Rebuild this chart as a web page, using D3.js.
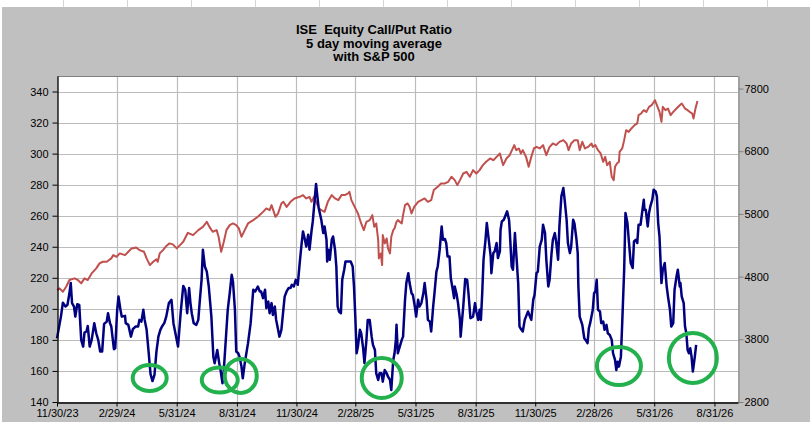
<!DOCTYPE html>
<html><head><meta charset="utf-8">
<script src="https://cdn.jsdelivr.net/npm/d3@7"></script>
<style>
html,body{margin:0;padding:0;background:#c0c0c0;}
svg{display:block;}
</style></head><body>
<svg id="c" width="810" height="422"></svg>
<script>
// ---------------- DATA ----------------
const titleLines = ["ISE  Equity Call/Put Ratio", "5 day moving average", "with S&P 500"];
const startDate = "2023-11-30";   // day 0 of the series
const endAxisDate = "2026-10-06";
// ISE equity call/put ratio (5-day MA) : days after start, value
const cpDays = [0,6,9,13,16,19,21,23,26,28,31,34,37,40,42,45,47,50,53,57,60,63,66,69,72,76,78,81,83,87,89,92,94,97,99,104,105,109,113,116,120,124,126,129,132,134,137,140,143,146,149,152,155,158,161,164,167,171,175,178,181,185,189,193,196,199,202,204,206,209,213,216,218,221,223,226,229,232,236,239,241,245,248,250,253,255,258,261,264,267,269,272,274,277,279,282,284,287,292,296,300,303,307,310,312,315,318,320,323,325,328,330,333,335,338,340,343,346,348,351,354,357,359,362,365,368,371,374,376,379,381,384,386,389,391,393,396,398,400,404,407,409,412,413,415,417,420,422,425,427,429,431,434,436,439,441,445,449,452,454,456,458,460,463,465,468,470,473,475,478,481,483,486,488,491,493,496,498,501,504,506,509,511,514,516,518,519,521,524,527,529,532,534,537,539,542,544,547,549,552,554,557,560,562,565,567,570,572,575,577,580,582,585,588,590,593,595,597,600,602,605,607,608,611,613,616,617,621,624,627,629,632,636,639,641,644,646,648,650,652,655,657,660,663,664,667,669,672,674,677,678,680,683,686,688,691,692,695,697,700,702,705,707,710,712,715,718,720,723,725,728,730,733,735,738,741,743,746,748,751,753,756,758,761,763,766,768,771,774,776,779,781,784,786,789,791,794,796,797,799,803,806,808,811,813,815,819,821,823,825,827,830,832,835,837,840,842,845,848,850,853,855,857,859,862,864,867,869,872,874,877,880,882,885,887,889,892,894,897,898,900,903,905,907,910,912,915,917,919,921,924,926,929,932,934,937,939,942,944,947,949,952,953,955,958,960,962,964,966,968,970,972,975,977];
const cpValues = [181,195,204,201.5,202.6,210,216.6,203.7,201.5,195,203,202.6,180,175.7,184.7,185.4,189,175.7,180,190.8,184.3,180,172.5,172.5,190.3,191.8,197.2,190.8,188.6,174,174.6,199.4,207.9,199.4,195,195.5,190.8,189.7,182.1,186.9,188.6,188.6,192.9,191.8,199.4,192.9,186.5,172.5,158,153.5,157.4,172.5,182.1,186.5,189,190.8,195,203.7,205.8,190.8,184.3,175.7,197.2,214.8,212.3,197.2,213.4,203.7,197.2,190.8,189.7,192.9,203.7,218.7,238.1,227.3,224,214.4,195,169.2,165,173.5,165,160.6,152.1,160.6,180,199.4,210,221.9,217.6,199.4,172.5,171.4,169.2,162.8,155.3,165,177.9,190.8,212.3,211.2,214.4,211.2,211.2,206.9,212.3,200.5,204.7,197.2,203.7,196.1,201.5,192.9,186.5,182.1,186.5,199.4,207.9,211.2,213.4,213.4,215.5,214.4,218.7,215.5,229.5,242.4,249.9,244.5,240.2,247.7,238.1,249.9,256.3,266,280.5,272.5,265,257.4,248.8,253.1,244.5,230.5,238.1,231.6,244.5,246.6,238.1,227.3,201.5,198.3,197.2,218.7,225.2,230.5,230.5,230.5,227.3,214.4,195,171.4,175.7,186.5,184.3,174.6,165,180,192.9,192.9,182.1,176.8,173.5,158.5,154.2,158.5,158.5,153.1,160.6,158.5,156.3,154.2,147.7,167.1,171.4,180,189.7,171.4,175.7,180,182.1,205.8,216.6,223,216.6,210,209,201.5,195,205.8,201.5,203.7,210,216.6,205.8,192.9,191.8,185.4,201.5,210,224,227.3,238.1,253.1,244.5,245,242.4,233.7,233.7,219.8,212.3,206.9,214.4,209,203.7,192.9,182.1,201.5,219.2,218.7,210,194,195,203.7,198.3,192.9,199.4,192.9,210,231.6,244.5,255.3,244.5,233.7,223,235.9,237,242.4,232.7,237,251,256.3,257.4,260.6,262.8,257.4,251,227.3,225.2,248.8,235.9,216.6,188.6,186.5,185.4,192.9,196.1,198.3,195,192.9,205.8,209,223,224,240.2,244.5,254.2,248.8,231.6,214.4,218.7,235.9,244.5,248.8,243.4,231.6,253.1,272.5,277.9,270.3,257.4,242.4,235.9,240.2,257.4,255,245,235.9,214.4,195,189.7,181.1,180,177.9,187.5,190.8,199.4,210,211.2,218.7,199.4,198.3,190.8,191.8,186.5,189.7,184.3,183.2,180,171.4,167.1,160.6,166,162.8,169.2,190.8,225.2,261.7,255.3,244.5,229.5,226.3,243.4,244.5,242.4,254.2,254.2,260.6,270.3,263.9,263.9,253.1,261.7,266,270.3,276.8,275.7,272.5,255.3,246.6,216.6,225.2,229.5,214.4,207.9,199.4,188.6,190.8,212.3,220.8,225.2,214.4,216.6,207.9,203.7,188.6,184.3,173.5,171.4,174.6,169.2,159.6,169.2,176.8];
// S&P 500 : days after start, index level
const spxDays = [0,4,9,14,19,27,32,37,42,47,53,60,65,70,76,83,86,91,96,104,109,114,121,126,133,137,142,147,152,154,157,162,167,172,177,183,188,193,200,208,216,223,229,233,238,244,247,251,255,259,264,269,274,278,282,287,292,300,307,315,320,325,328,334,338,343,346,351,357,363,371,376,381,386,389,393,397,401,404,409,414,420,425,430,435,440,445,447,450,455,460,465,469,473,478,482,485,488,491,492,495,497,498,501,504,506,509,511,514,516,519,521,527,529,532,536,539,542,546,552,557,562,567,572,576,582,587,593,598,603,608,612,616,621,626,631,636,641,646,651,656,662,667,672,677,682,687,692,699,702,706,709,712,717,721,725,729,733,738,743,748,753,758,763,768,774,779,782,786,791,796,799,803,807,812,817,819,823,827,831,835,838,841,845,848,851,853,856,859,860,864,867,870,874,878,883,887,889,893,897,901,905,909,914,917,921,924,926,930,934,938,942,947,952,955,960,964,967,971,973,976,979];
const spxValues = [4585,4612,4558,4638,4745,4772,4745,4692,4772,4745,4851,4931,5011,5037,5037,5091,5143,5116,5170,5143,5196,5250,5266,5223,5196,5091,4984,5037,5075,5037,5170,5223,5287,5330,5314,5250,5303,5355,5499,5462,5542,5594,5674,5594,5515,5542,5435,5196,5355,5542,5621,5648,5621,5569,5435,5542,5648,5701,5754,5833,5888,5860,5940,5754,5808,5967,5993,5913,5993,6047,6073,6100,6047,6073,5993,6073,5967,5888,5860,5833,5993,6100,6047,6020,6100,6100,6127,6153,6020,5913,5808,5648,5542,5674,5701,5781,5594,5648,5382,5091,5170,4984,5462,5330,5409,5250,5170,5435,5542,5569,5674,5701,5648,5781,5940,5967,5913,5808,5913,5993,6020,6047,5993,6020,6180,6232,6286,6286,6312,6392,6339,6259,6339,6445,6471,6392,6498,6445,6498,6578,6631,6684,6657,6710,6764,6578,6684,6737,6897,6817,6844,6764,6817,6710,6551,6710,6844,6870,6844,6897,6737,6870,6924,6897,6950,6977,6924,6817,6924,6977,6977,6817,6950,6844,6870,6924,6870,6897,6817,6764,6631,6710,6578,6631,6392,6339,6551,6604,6631,6790,6844,6977,7136,7109,7163,7216,7243,7375,7402,7455,7428,7508,7534,7614,7534,7428,7268,7508,7455,7481,7375,7428,7481,7534,7561,7481,7455,7428,7402,7322,7481,7602];
const leftTicks = [140,160,180,200,220,240,260,280,300,320,340];
const rightTicks = [2800,3800,4800,5800,6800,7800];
const xTickDates = ["2023-11-30","2024-02-29","2024-05-31","2024-08-31","2024-11-30","2025-02-28","2025-05-31","2025-08-31","2025-11-30","2026-02-28","2026-05-31","2026-08-31"];
const xTickLabels = ["11/30/23","2/29/24","5/31/24","8/31/24","11/30/24","2/28/25","5/31/25","8/31/25","11/30/25","2/28/26","5/31/26","8/31/26"];
// highlighted lows (green rings): day offset, ratio value
const ringDays = [141.7, 248.8, 280.9, 496.4, 859, 972];
const ringValues = [155.5, 154.2, 156.8, 155.5, 163.2, 168.4];

// ---------------- DRAW ----------------
const W = 810, H = 422;
const M = {left: 57, right: 738, top: 76, bottom: 402};
const ringSize = [[17,13],[18,12.5],[16,17],[20,20],[22,19],[24,25]];

const svg = d3.select("#c");
const parse = d3.utcParse("%Y-%m-%d");
const t0 = parse(startDate);
const dayToDate = d => new Date(+t0 + d * 864e5);

const x = d3.scaleUtc().domain([t0, parse(endAxisDate)]).range([M.left, M.right]);
const yL = d3.scaleLinear().domain([140, 350]).range([M.bottom, M.top]);
const yR = d3.scaleLinear().domain([2800, 8000]).range([M.bottom, M.top]);

// background (chart area + spreadsheet edge)
svg.append("rect").attr("width", W).attr("height", H).attr("fill", "#c0c0c0");
svg.append("rect").attr("width", W).attr("height", 7).attr("fill", "#ffffff");
svg.append("rect").attr("width", 2).attr("height", H).attr("fill", "#ffffff");
const sheet = svg.append("g").attr("stroke", "#d4d4d4").attr("stroke-width", 1);
d3.range(63.5, W, 64).forEach(v => sheet.append("line").attr("x1", v).attr("x2", v).attr("y1", 0).attr("y2", 7));

// plot area
svg.append("rect").attr("x", M.left).attr("y", M.top)
  .attr("width", M.right - M.left).attr("height", M.bottom - M.top).attr("fill", "#ffffff");

// gridlines
const grid = svg.append("g").attr("stroke", "#bcbcbc").attr("stroke-width", 1.2);
leftTicks.forEach(v => {
  const yy = Math.round(yL(v)) + 0.5;
  grid.append("line").attr("x1", M.left).attr("x2", M.right).attr("y1", yy).attr("y2", yy);
});
xTickDates.forEach(s => {
  const xx = Math.round(x(parse(s))) + 0.5;
  grid.append("line").attr("x1", xx).attr("x2", xx).attr("y1", M.top).attr("y2", M.bottom);
});

// top border
svg.append("line").attr("x1", M.left).attr("x2", M.right + 0.5).attr("y1", M.top + 0.5).attr("y2", M.top + 0.5)
  .attr("stroke", "#808080").attr("stroke-width", 1);

// lines
const spxLine = d3.line().x((d, i) => x(dayToDate(spxDays[i]))).y(d => yR(d));
const cpLine = d3.line().x((d, i) => x(dayToDate(cpDays[i]))).y(d => yL(d));
svg.append("path").datum(spxValues).attr("d", spxLine)
  .attr("fill", "none").attr("stroke", "#c0504d").attr("stroke-width", 2).attr("stroke-linejoin", "round");
svg.append("path").datum(cpValues).attr("d", cpLine)
  .attr("fill", "none").attr("stroke", "#000080").attr("stroke-width", 2.5).attr("stroke-linejoin", "round");

// axes
const font = "'Liberation Sans', Arial, sans-serif";
const axL = svg.append("g").attr("transform", `translate(${M.left + 0.5},0)`)
  .call(d3.axisLeft(yL).tickValues(leftTicks).tickFormat(d3.format("d")).tickSize(5).tickPadding(4).tickSizeOuter(0));
const axR = svg.append("g").attr("transform", `translate(${M.right + 0.5},0)`)
  .call(d3.axisRight(yR).tickValues(rightTicks).tickFormat(d3.format("d")).tickSize(5).tickPadding(1).tickSizeOuter(0));
const axB = svg.append("g").attr("transform", `translate(0,${M.bottom + 0.5})`)
  .call(d3.axisBottom(x).tickValues(xTickDates.map(parse)).tickFormat((d, i) => xTickLabels[i])
    .tickSize(4).tickPadding(3).tickSizeOuter(0));
[axL, axR, axB].forEach(g => {
  g.selectAll("text").attr("font-family", font).attr("font-size", 11).attr("fill", "#000");
});
axL.select(".domain").attr("stroke", "#000").attr("stroke-width", 1.3);
axL.selectAll(".tick line").attr("stroke", "#000");
axB.select(".domain").attr("stroke", "#000").attr("stroke-width", 1.3);
axB.selectAll(".tick line").attr("stroke", "#000");
axR.select(".domain").attr("stroke", "#808080");
axR.selectAll(".tick line").attr("stroke", "#808080");

// green rings
ringDays.forEach((d, i) => {
  svg.append("ellipse").attr("cx", x(dayToDate(d))).attr("cy", yL(ringValues[i]))
    .attr("rx", ringSize[i][0]).attr("ry", ringSize[i][1])
    .attr("fill", "none").attr("stroke", "#22b14c").attr("stroke-width", 4);
});

// title
const title = svg.append("text").attr("x", 374).attr("text-anchor", "middle")
  .attr("font-family", font).attr("font-size", 13).attr("font-weight", "bold")
  .attr("fill", "#000").style("white-space", "pre");
titleLines.forEach((t, i) => {
  title.append("tspan").attr("x", 374).attr("y", 34.3 + i * 13.4).text(t);
});
</script>
</body></html>
